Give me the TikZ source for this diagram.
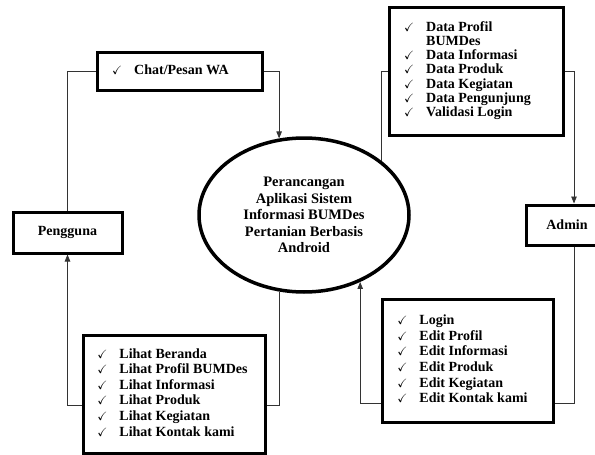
\documentclass[tikz,border=0pt]{standalone}
\usepackage{fontspec}
\setmainfont{Liberation Serif}
\usepackage{amssymb}
\usetikzlibrary{shapes.geometric,arrows.meta}

\newcommand{\hak}{{\fontsize{12}{12}\selectfont$\checkmark$}}
\newcommand{\daftar}[2]{\begin{tabular}{@{}c@{\hspace{12pt}}l@{\hspace{#1}}}#2\end{tabular}}

\begin{document}
\begin{tikzpicture}[x=1pt,y=-1pt,
	kotak/.style={draw, line width=3pt, inner sep=0pt, font=\bfseries\fontsize{14}{15.6}\selectfont},
	rapat/.style={font=\bfseries\fontsize{14}{14.2}\selectfont},
	garis/.style={line width=0.8pt, draw=black!80},
	panah/.style={garis, -{Triangle[length=7pt,width=5.5pt]}}]

	\useasboundingbox (0,0) rectangle (595,455);
	\clip (0,0) rectangle (595,455);

%Mitte
	\node[kotak, ellipse, line width=3.5pt, minimum width=210, minimum height=154, align=center,
		font=\bfseries\fontsize{14.5}{16.5}\selectfont] (sys) at (304,215)
		{Perancangan\\Aplikasi Sistem\\Informasi BUMDes\\Pertanian Berbasis\\Android};

%links
	\node[kotak, minimum width=165, minimum height=38] (chat) at (179.5,71)
		{\daftar{18pt}{\hak & Chat/Pesan WA}};
	\node[kotak, minimum width=109, minimum height=41] (pengguna) at (67.5,232.5) {Pengguna};
	\node[kotak, minimum width=182, minimum height=118] (lihat) at (174,394)
		{\daftar{3pt}{\hak & Lihat Beranda\\ \hak & Lihat Profil BUMDes\\ \hak & Lihat Informasi\\
		\hak & Lihat Produk\\ \hak & Lihat Kegiatan\\ \hak & Lihat Kontak kami}};

%rechts
	\node[kotak, rapat, minimum width=174, minimum height=128] (data) at (476,71)
		{\daftar{17pt}{\hak & Data Profil\\ & BUMDes\\ \hak & Data Informasi\\ \hak & Data Produk\\
		\hak & Data Kegiatan\\ \hak & Data Pengunjung\\ \hak & Validasi Login}};
	\node[kotak, minimum width=82, minimum height=40] (admin) at (567,225) {Admin};
	\node[kotak, minimum width=171, minimum height=123] (edit) at (467.5,360.5)
		{\daftar{10pt}{\hak & Login\\ \hak & Edit Profil\\ \hak & Edit Informasi\\
		\hak & Edit Produk\\ \hak & Edit Kegiatan\\ \hak & Edit Kontak kami}};

%Pfeile Pengguna
	\draw[garis] (pengguna.north) |- (chat.west);
	\draw[panah] (chat.east) -| (sys.108);
	\draw[garis] (sys.252) |- ([yshift=-11pt]lihat.east);
	\draw[panah] ([yshift=-11pt]lihat.west) -| (pengguna.south);

%Pfeile Admin
	\draw[garis] (sys.35) |- (data.west);
	\draw[panah] (data.east) -| ([xshift=7pt]admin.north);
	\draw[garis] ([xshift=7pt]admin.south) |- ([yshift=-43pt]edit.east);
	\draw[panah] ([yshift=-43pt]edit.west) -| (sys.310);

\end{tikzpicture}
\end{document}
